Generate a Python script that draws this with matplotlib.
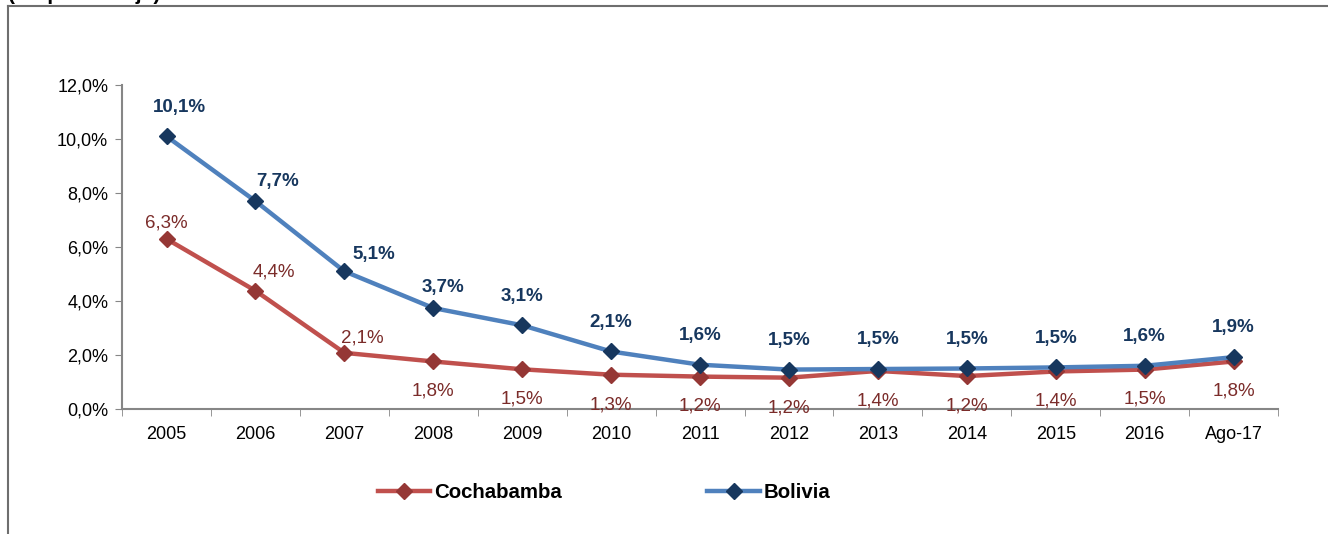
import numpy as np
import matplotlib
matplotlib.use('Agg')
import matplotlib.pyplot as plt
from matplotlib.ticker import FuncFormatter, FixedLocator
from matplotlib.lines import Line2D

plt.rcParams['font.family'] = ['Liberation Sans', 'DejaVu Sans']

periods = ['2005', '2006', '2007', '2008', '2009', '2010', '2011', '2012',
           '2013', '2014', '2015', '2016', 'Ago-17']
cochabamba = [6.3, 4.38, 2.08, 1.76, 1.47, 1.27, 1.2, 1.16, 1.41, 1.22, 1.39, 1.46, 1.76]
bolivia = [10.1, 7.7, 5.1, 3.74, 3.1, 2.13, 1.64, 1.46, 1.48, 1.5, 1.54, 1.6, 1.92]
y_ticks = [0, 2, 4, 6, 8, 10, 12]

def pct(v):
    return ('%.1f%%' % v).replace('.', ',')

fig = plt.figure(figsize=(13.28, 5.34), dpi=100)
ax = fig.add_axes([0.0919, 0.2341, 0.8705, 0.6067])

x = np.arange(len(periods))
ax.plot(x, cochabamba, color='#C0504D', lw=3.2, marker='D', ms=8,
        mfc='#953735', mec='#953735', label='Cochabamba', zorder=3)
ax.plot(x, bolivia, color='#4F81BD', lw=3.2, marker='D', ms=8,
        mfc='#17375E', mec='#17375E', label='Bolivia', zorder=4)

# label offsets in points (steep part nudged right, like the original)
bol_off = [(9, 21), (16, 14), (21, 12), (7, 15)] + [(0, 21)] * 9
for i, v in enumerate(bolivia):
    ax.annotate(pct(v), (x[i], v), xytext=bol_off[i], textcoords='offset points',
                ha='center', va='center', fontsize=13.5, fontweight='bold',
                color='#17375E')

coc_off = [(0, 11.5), (13, 13.5), (13, 11)] + [(0, -21.5)] * 10
for i, v in enumerate(cochabamba):
    ax.annotate(pct(v), (x[i], v), xytext=coc_off[i], textcoords='offset points',
                ha='center', va='center', fontsize=13.5, color='#7B2C2A')

ax.set_xlim(-0.5, len(periods) - 0.5)
ax.set_ylim(0, 12)
ax.set_yticks(y_ticks)
ax.yaxis.set_major_formatter(FuncFormatter(lambda v, p: pct(v)))

ax.set_xticks(x)
ax.set_xticklabels(periods)
ax.xaxis.set_minor_locator(FixedLocator(np.arange(-0.5, len(periods), 1.0)))
ax.tick_params(axis='x', which='major', length=0, pad=12, labelsize=13)
ax.tick_params(axis='x', which='minor', length=5, color='#868686', direction='out')
ax.tick_params(axis='y', length=5, color='#868686', labelsize=13, pad=5)

for s in ['top', 'right']:
    ax.spines[s].set_visible(False)
for s in ['left', 'bottom']:
    ax.spines[s].set_color('#868686')
    ax.spines[s].set_linewidth(1.5)

fig.legend(loc='center', bbox_to_anchor=(604 / 1328, 1 - 493 / 534), ncol=2,
           frameon=False, prop={'weight': 'bold', 'size': 14.7},
           handlelength=2.55, columnspacing=7.15, handletextpad=0.2)

# outer frame (partly cut off)
fig.add_artist(Line2D([8 / 1328, 8 / 1328], [0, 1 - 6 / 534], color='#6E6E6E', lw=1.5))
fig.add_artist(Line2D([8 / 1328, 1], [1 - 6 / 534, 1 - 6 / 534], color='#6E6E6E', lw=1.5))
fig.text(8 / 1328, 1 - 0.5 / 534, '(En porcentaje)', fontsize=15, fontweight='bold',
         ha='left', va='baseline')

plt.savefig('out.png', dpi=100)
plt.close(fig)
